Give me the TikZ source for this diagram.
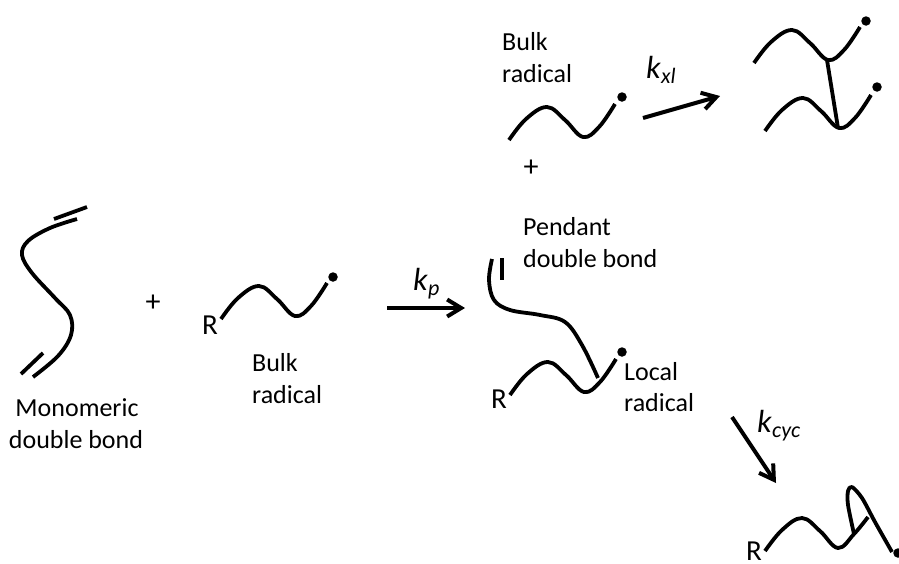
\documentclass[tikz,border=0pt]{standalone}
\usepackage{fontspec}
\setmainfont{Carlito}
\usetikzlibrary{arrows.meta}
\newcommand{\ratek}[1]{\fontsize{32}{32}\selectfont\textit{k}\raisebox{-5pt}{\fontsize{22}{22}\selectfont\textit{#1}}}
\tikzset{
  x=1pt,y=-1pt,
  chain/.style={line width=3.8pt,line join=round},
  bondline/.style={line width=3.8pt},
  react/.style={line width=4pt,-{Straight Barb[length=14pt,width=17pt,line width=4pt]}},
  label/.style={inner sep=0pt,font=\fontsize{26}{26}\selectfont,anchor=base west},
  labelc/.style={inner sep=0pt,font=\fontsize{26}{26}\selectfont,anchor=base},
  plusmark/.style={inner sep=0pt,font=\fontsize{30}{30}\selectfont},
  rlabel/.style={inner sep=0pt,font=\fontsize{29}{29}\selectfont},
  rate/.style={inner sep=0pt,anchor=base west},
  radical/.style={circle,fill=black,inner sep=0pt,minimum size=9.5pt},
  wave/.pic={\draw[chain] plot[smooth,tension=0.65] coordinates {(0,0) (17,-21) (38,-33) (56,-20) (74,-3) (90,-13) (106,-36)};}
}
\begin{document}
\begin{tikzpicture}
\useasboundingbox (0,0) rectangle (899,563);
% top: bulk radical
\node[label] (bulk1a) at (502,50) {Bulk};
\node[label] (bulk1b) at (502,82) {radical};
\pic at (509,140) {wave};
\node[radical] (d1) at (622,97) {};
\node[plusmark] (plus1) at (531,168) {+};
% kxl
\coordinate (a1s) at (643,118);
\coordinate (a1e) at (720,96);
\draw[react] (a1s) -- (a1e);
\node[rate] (kxl) at (646,78) {\ratek{xl}};
% crosslinked
\pic at (754,63) {wave};
\pic at (765,131) {wave};
\node[radical] (d2) at (866,21) {};
\node[radical] (d3) at (877,87) {};
\coordinate (x1) at (827,60);
\coordinate (x2) at (838,128);
\draw[chain] (x1) -- (x2);
% monomer
\draw[bondline] (54,219) -- (87,207);
\draw[chain] plot[smooth,tension=0.6] coordinates {(77,219) (50,228) (28,241) (22,255) (32,273) (55,298) (70,315) (71,335) (58,356) (33,377)};
\draw[bondline] (21,374) -- (43,353);
\node[labelc] (mono1) at (77,416) {Monomeric};
\node[labelc] (mono2) at (76,448) {double bond};
\node[plusmark] (plus2) at (153,303) {+};
% R + bulk radical
\node[rlabel] (r1) at (210,325) {R};
\pic at (221,319) {wave};
\node[radical] (d4) at (333,277) {};
\node[label] (bulk2a) at (252,371) {Bulk};
\node[label] (bulk2b) at (252,403) {radical};
% kp
\coordinate (a2s) at (387,308);
\coordinate (a2e) at (465,308);
\draw[react] (a2s) -- (a2e);
\node[rate] (kp) at (413,290) {\ratek{p}};
% pendant
\node[label] (pend1) at (523,235) {Pendant};
\node[label] (pend2) at (523,267) {double bond};
\draw[bondline] (502,258) -- (502,280);
\draw[chain] plot[smooth,tension=0.6] coordinates {(492,259) (489,280) (494,300) (510,310) (540,315) (565,322) (582,345) (598,378)};
\node[rlabel] (r2) at (499,399) {R};
\pic at (510,395) {wave};
\node[radical] (d5) at (622,352) {};
\node[label] (loc1) at (624,380) {Local};
\node[label] (loc2) at (624,411) {radical};
% kcyc
\coordinate (a3s) at (732,417);
\coordinate (a3e) at (776,483);
\draw[react] (a3s) -- (a3e);
\node[rate] (kcyc) at (757,432) {\ratek{cyc}};
% cyclised
\node[rlabel] (r3) at (754,551) {R};
\draw[chain] plot[smooth,tension=0.65] coordinates {(765,551) (782,530) (802,518) (820,531) (838,548) (854,534) (868,517)};
\draw[chain] plot[smooth,tension=0.5] coordinates {(854,534) (848,505) (848,491) (852,487) (862,498) (875,522) (892,552)};
\node[radical] (d6) at (898,553) {};
\end{tikzpicture}
\end{document}
